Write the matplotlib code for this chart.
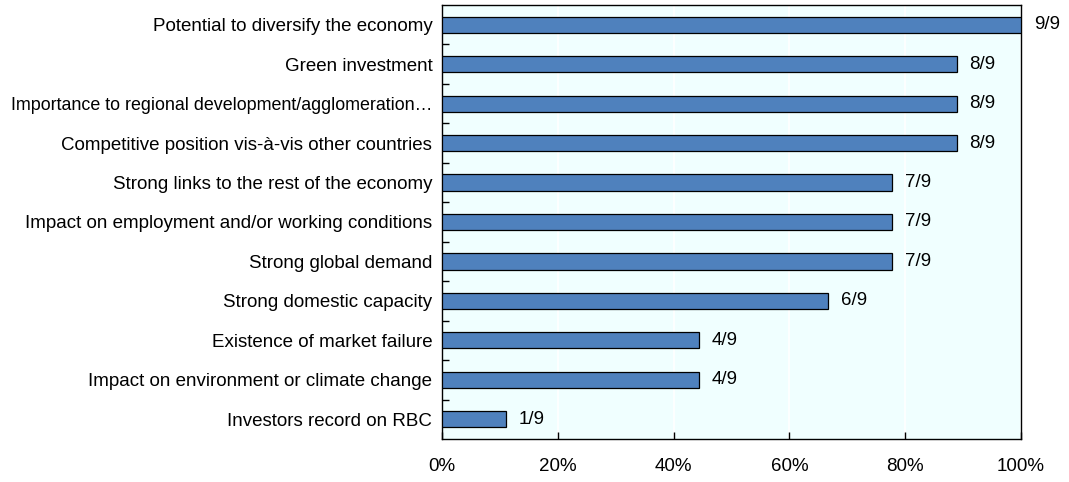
import numpy as np
import matplotlib.pyplot as plt
from matplotlib.ticker import FixedLocator, PercentFormatter

plt.rcParams['font.family'] = ['Liberation Sans', 'DejaVu Sans']

criteria = [
    'Potential to diversify the economy',
    'Green investment',
    'Importance to regional development/agglomeration\u2026',
    'Competitive position vis-\u00e0-vis other countries',
    'Strong links to the rest of the economy',
    'Impact on employment and/or working conditions',
    'Strong global demand',
    'Strong domestic capacity',
    'Existence of market failure',
    'Impact on environment or climate change',
    'Investors record on RBC',
]
countries = [9, 8, 8, 8, 7, 7, 7, 6, 4, 4, 1]
total = 9


def main():
    shares = np.array(countries) / total * 100
    ypos = np.arange(len(criteria))

    fig = plt.figure(figsize=(10.69, 4.82), dpi=100)
    ax = fig.add_axes([442 / 1069, 1 - 439 / 482, 579 / 1069, 434 / 482])
    ax.set_facecolor('#F0FFFF')

    ax.barh(ypos, shares, height=0.41, color='#4F81BD', edgecolor='black',
            linewidth=0.9, zorder=3)
    for y, v, n in zip(ypos, shares, countries):
        ax.text(v + 2.2, y, f'{n}/{total}', va='center', ha='left',
                fontsize=13.5, clip_on=False)

    ax.set_ylim(len(criteria) - 0.5, -0.5)
    ax.set_xlim(0, 100)
    ax.set_yticks(ypos)
    ax.set_yticklabels(criteria, fontsize=13.5)
    # the longest label would run off the left edge, so it gets a touch smaller
    for lbl in ax.get_yticklabels():
        if len(lbl.get_text()) > 48:
            lbl.set_fontsize(12.9)
    ax.yaxis.set_minor_locator(FixedLocator(ypos[:-1] + 0.5))
    ax.tick_params(axis='y', which='major', length=0, pad=7)
    ax.tick_params(axis='y', which='minor', direction='in', length=5, width=1)

    ax.set_xticks(np.arange(0, 101, 20))
    ax.xaxis.set_major_formatter(PercentFormatter(decimals=0))
    ax.tick_params(axis='x', direction='in', length=5, width=1, pad=14,
                   labelsize=13.5)
    ax.grid(axis='x', color='white', linewidth=1.2, zorder=1)
    ax.set_axisbelow(True)

    for side in ax.spines.values():
        side.set_color('black')
        side.set_linewidth(1.0)

    fig.savefig('out.png', dpi=100)


if __name__ == "__main__":
    main()
